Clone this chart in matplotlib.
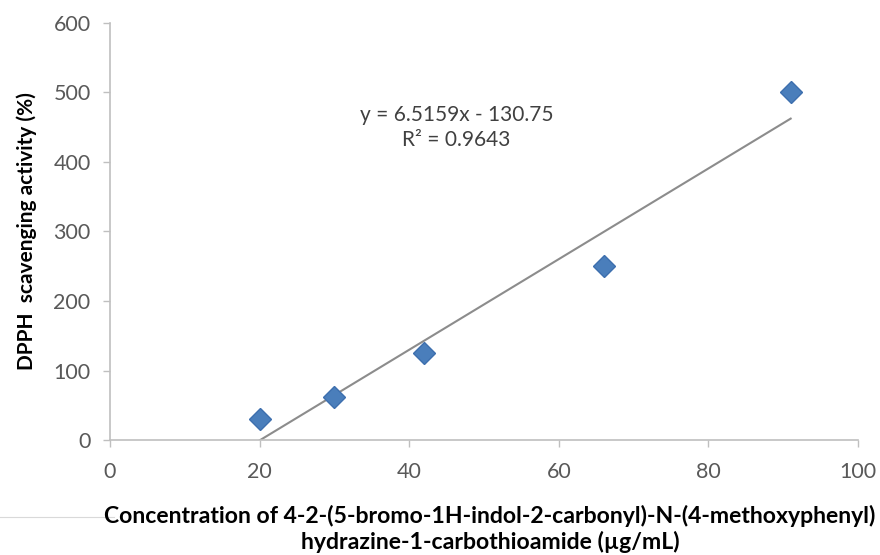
import matplotlib
matplotlib.use('Agg')
import matplotlib.pyplot as plt
import numpy as np
from matplotlib.lines import Line2D

plt.rcParams['font.family'] = ['Lato', 'DejaVu Sans']

# data
conc = [20, 30, 42, 66, 91]
activity = [31, 62, 125, 250, 500]
slope, intercept = 6.5159, -130.75
x_ticks = [0, 20, 40, 60, 80, 100]
y_ticks = [0, 100, 200, 300, 400, 500, 600]

fig = plt.figure(figsize=(8.8, 5.55), dpi=100)
ax = fig.add_axes([0.125, 0.207, 0.85, 0.752])

# trendline over data range
xfit = np.array([min(conc), max(conc)])
ax.plot(xfit, slope * xfit + intercept, color='#8c8c8c', lw=1.5, zorder=2)
ax.plot(conc, activity, linestyle='none', marker='D', markersize=11,
        color='#4a7ebb', markeredgecolor='#3d6fae', zorder=3)

ax.set_xlim(0, 100)
ax.set_ylim(0, 600)
ax.set_xticks(x_ticks)
ax.set_yticks(y_ticks)
ax.tick_params(colors='#bfbfbf', labelcolor='#595959', labelsize=15.5, length=5, width=1)
ax.tick_params(axis='y', pad=9)
ax.tick_params(axis='x', pad=11)
for s in ['top', 'right']:
    ax.spines[s].set_visible(False)
for s in ['left', 'bottom']:
    ax.spines[s].set_color('#bfbfbf')
    ax.spines[s].set_linewidth(1.2)

ax.text(46.3, 449, 'y = 6.5159x - 130.75\nR² = 0.9643', ha='center', va='center',
        fontsize=15, color='#404040', linespacing=1.3)

ax.set_ylabel('DPPH  scavenging activity (%)', fontsize=15, fontweight='bold',
              labelpad=12)
fig.text(0.557, 0.047, 'Concentration of 4-2-(5-bromo-1H-indol-2-carbonyl)-N-(4-methoxyphenyl)\n'
         'hydrazine-1-carbothioamide (µg/mL)', ha='center', va='center',
         fontsize=16.6, fontweight='bold', linespacing=1.2)

# faint rule at lower left
fig.add_artist(Line2D([0, 0.13], [0.068, 0.068], color='#d9d9d9', lw=0.8))

fig.savefig('out.png', dpi=100)
